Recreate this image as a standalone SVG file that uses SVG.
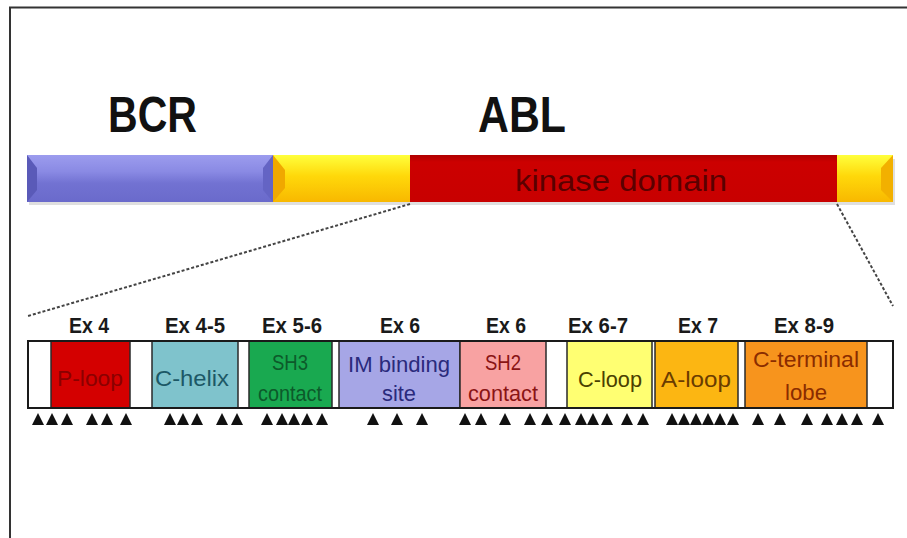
<svg xmlns="http://www.w3.org/2000/svg" width="907" height="538" viewBox="0 0 907 538">
  <defs>
    <linearGradient id="gBlue" x1="0" y1="0" x2="0" y2="1">
      <stop offset="0" stop-color="#9c9cee"/>
      <stop offset="0.35" stop-color="#8a8ae4"/>
      <stop offset="0.6" stop-color="#7272d2"/>
      <stop offset="1" stop-color="#6a6acb"/>
    </linearGradient>
    <linearGradient id="gYellow" x1="0" y1="0" x2="0" y2="1">
      <stop offset="0" stop-color="#ffff3c"/>
      <stop offset="0.45" stop-color="#ffd80a"/>
      <stop offset="1" stop-color="#f8b800"/>
    </linearGradient>
    <linearGradient id="gRed" x1="0" y1="0" x2="0" y2="1">
      <stop offset="0" stop-color="#b00000"/>
      <stop offset="0.15" stop-color="#cc0000"/>
      <stop offset="1" stop-color="#c80000"/>
    </linearGradient>
    <filter id="soft" x="-5%" y="-20%" width="110%" height="160%">
      <feGaussianBlur stdDeviation="0.6"/>
    </filter>
    <path id="tri" d="M-6,0 L0,-12 L6,0 Z" fill="#111"/>
  </defs>
  <style>
    .gene { font-family: "Liberation Sans", Arial, sans-serif; font-weight: bold; font-size: 50px; fill: #111; }
    .ex { font-family: "Liberation Sans", Arial, sans-serif; font-weight: bold; font-size: 22px; fill: #1a1a1a; text-anchor: middle; }
    .lbl { font-family: "Liberation Sans", Arial, sans-serif; font-size: 22px; text-anchor: middle; }
    .seg { stroke: #2a2a2a; stroke-width: 1.5; }
    .dash { fill: none; stroke: #444; stroke-width: 2; stroke-dasharray: 3 2; }
  </style>

  <rect width="907" height="538" fill="#ffffff"/>

  <!-- frame -->
  <g id="frame" fill="none" stroke="#333" stroke-width="2">
    <path d="M10,538 L10,7.5 L907,7.5"/>
  </g>

  <!-- gene titles -->
  <g id="titles">
    <text class="gene" x="108" y="132" textLength="89" lengthAdjust="spacingAndGlyphs">BCR</text>
    <text class="gene" x="478" y="132" textLength="88" lengthAdjust="spacingAndGlyphs">ABL</text>
  </g>

  <!-- fusion protein bar -->
  <g id="fusion-bar">
    <rect x="29" y="159" width="866" height="46" fill="#000" opacity="0.12" filter="url(#soft)"/>
    <g id="bcr">
      <rect x="27" y="155" width="246" height="47" fill="url(#gBlue)"/>
      <polygon points="27,155 37,168 37,190 27,202" fill="#5a5ab8"/>
      <polygon points="263,168 273,155 273,202 263,190" fill="#6464c4"/>
    </g>
    <g id="abl-n">
      <rect x="273" y="155" width="137" height="47" fill="url(#gYellow)"/>
      <polygon points="273,155 285,170 285,188 273,202" fill="#f0a800"/>
    </g>
    <g id="kinase-domain">
      <rect x="410" y="155" width="427" height="47" fill="url(#gRed)"/>
      <text x="621" y="191" font-family="'Liberation Sans', Arial, sans-serif" font-size="29" fill="#5a0000" text-anchor="middle" textLength="212" lengthAdjust="spacingAndGlyphs">kinase domain</text>
    </g>
    <g id="abl-c">
      <rect x="837" y="155" width="56" height="47" fill="url(#gYellow)"/>
      <polygon points="881,168 893,155 893,202 881,190" fill="#f2b000"/>
    </g>
  </g>

  <!-- zoom connectors -->
  <g id="connectors">
    <path class="dash" d="M410,204 L28,316"/>
    <path class="dash" d="M837,204 L893,306"/>
  </g>

  <!-- exon labels -->
  <g id="exons">
    <text class="ex" x="89" y="333" textLength="40" lengthAdjust="spacingAndGlyphs">Ex 4</text>
    <text class="ex" x="195" y="333" textLength="60" lengthAdjust="spacingAndGlyphs">Ex 4-5</text>
    <text class="ex" x="292" y="333" textLength="60" lengthAdjust="spacingAndGlyphs">Ex 5-6</text>
    <text class="ex" x="400" y="333" textLength="40" lengthAdjust="spacingAndGlyphs">Ex 6</text>
    <text class="ex" x="506" y="333" textLength="40" lengthAdjust="spacingAndGlyphs">Ex 6</text>
    <text class="ex" x="598" y="333" textLength="60" lengthAdjust="spacingAndGlyphs">Ex 6-7</text>
    <text class="ex" x="698" y="333" textLength="40" lengthAdjust="spacingAndGlyphs">Ex 7</text>
    <text class="ex" x="804" y="333" textLength="60" lengthAdjust="spacingAndGlyphs">Ex 8-9</text>
  </g>

  <!-- kinase domain regions -->
  <g id="domain-map">
    <rect x="28" y="341" width="865" height="67" fill="#ffffff"/>

    <g id="p-loop">
      <rect class="seg" x="51" y="341" width="79" height="67" fill="#d40000"/>
      <text class="lbl" x="90" y="386" fill="#8a0000" textLength="66" lengthAdjust="spacingAndGlyphs">P-loop</text>
    </g>
    <g id="c-helix">
      <rect class="seg" x="152" y="341" width="86" height="67" fill="#7fc3cc"/>
      <text class="lbl" x="192" y="386" fill="#1c5866" textLength="74" lengthAdjust="spacingAndGlyphs">C-helix</text>
    </g>
    <g id="sh3-contact">
      <rect class="seg" x="249" y="341" width="83" height="67" fill="#19a950"/>
      <text class="lbl" x="290" y="370" fill="#0c5a2a" textLength="36" lengthAdjust="spacingAndGlyphs">SH3</text>
      <text class="lbl" x="290" y="401" fill="#0c5a2a" textLength="64" lengthAdjust="spacingAndGlyphs">contact</text>
    </g>
    <g id="im-binding-site">
      <rect class="seg" x="339" y="341" width="121" height="67" fill="#a6a6e6"/>
      <text class="lbl" x="399" y="372" fill="#2a2a7c" textLength="102" lengthAdjust="spacingAndGlyphs">IM binding</text>
      <text class="lbl" x="399" y="401" fill="#2a2a7c" textLength="34" lengthAdjust="spacingAndGlyphs">site</text>
    </g>
    <g id="sh2-contact">
      <rect class="seg" x="460" y="341" width="86" height="67" fill="#f8a2a2"/>
      <text class="lbl" x="503" y="370" fill="#8a1414" textLength="36" lengthAdjust="spacingAndGlyphs">SH2</text>
      <text class="lbl" x="503" y="401" fill="#8a1414" textLength="70" lengthAdjust="spacingAndGlyphs">contact</text>
    </g>
    <g id="c-loop">
      <rect class="seg" x="567" y="341" width="85" height="67" fill="#ffff72"/>
      <text class="lbl" x="610" y="387" fill="#4a4000" textLength="64" lengthAdjust="spacingAndGlyphs">C-loop</text>
    </g>
    <g id="a-loop">
      <rect class="seg" x="655" y="341" width="83" height="67" fill="#fcb612"/>
      <text class="lbl" x="696" y="387" fill="#6a3c00" textLength="70" lengthAdjust="spacingAndGlyphs">A-loop</text>
    </g>
    <g id="c-terminal-lobe">
      <rect class="seg" x="745" y="341" width="122" height="67" fill="#f7941d"/>
      <text class="lbl" x="806" y="367" fill="#8a2c00" textLength="106" lengthAdjust="spacingAndGlyphs">C-terminal</text>
      <text class="lbl" x="806" y="400" fill="#8a2c00" textLength="42" lengthAdjust="spacingAndGlyphs">lobe</text>
    </g>

    <rect x="28" y="341" width="865" height="67" fill="none" stroke="#1a1a1a" stroke-width="2"/>
  </g>

  <!-- mutation markers -->
  <g id="mutations">
    <use href="#tri" x="38" y="425"/>
    <use href="#tri" x="52" y="425"/>
    <use href="#tri" x="67" y="425"/>
    <use href="#tri" x="92" y="425"/>
    <use href="#tri" x="107" y="425"/>
    <use href="#tri" x="126" y="425"/>
    <use href="#tri" x="170" y="425"/>
    <use href="#tri" x="183" y="425"/>
    <use href="#tri" x="197" y="425"/>
    <use href="#tri" x="222" y="425"/>
    <use href="#tri" x="237" y="425"/>
    <use href="#tri" x="267" y="425"/>
    <use href="#tri" x="282" y="425"/>
    <use href="#tri" x="294" y="425"/>
    <use href="#tri" x="307" y="425"/>
    <use href="#tri" x="322" y="425"/>
    <use href="#tri" x="373" y="425"/>
    <use href="#tri" x="397" y="425"/>
    <use href="#tri" x="422" y="425"/>
    <use href="#tri" x="465" y="425"/>
    <use href="#tri" x="481" y="425"/>
    <use href="#tri" x="505" y="425"/>
    <use href="#tri" x="530" y="425"/>
    <use href="#tri" x="547" y="425"/>
    <use href="#tri" x="565" y="425"/>
    <use href="#tri" x="581" y="425"/>
    <use href="#tri" x="593" y="425"/>
    <use href="#tri" x="607" y="425"/>
    <use href="#tri" x="627" y="425"/>
    <use href="#tri" x="643" y="425"/>
    <use href="#tri" x="672" y="425"/>
    <use href="#tri" x="684" y="425"/>
    <use href="#tri" x="696" y="425"/>
    <use href="#tri" x="708" y="425"/>
    <use href="#tri" x="720" y="425"/>
    <use href="#tri" x="733" y="425"/>
    <use href="#tri" x="758" y="425"/>
    <use href="#tri" x="780" y="425"/>
    <use href="#tri" x="807" y="425"/>
    <use href="#tri" x="827" y="425"/>
    <use href="#tri" x="842" y="425"/>
    <use href="#tri" x="857" y="425"/>
    <use href="#tri" x="878" y="425"/>
  </g>
</svg>
